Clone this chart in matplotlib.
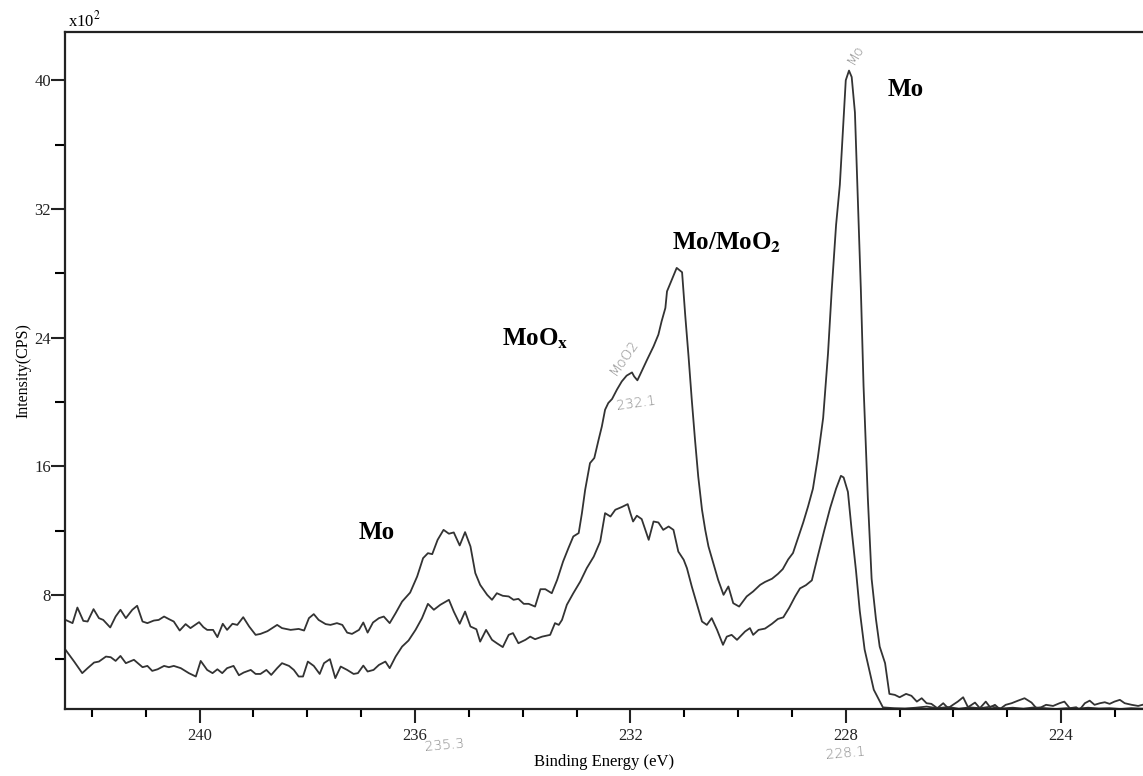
import matplotlib
matplotlib.use("Agg")
import matplotlib.pyplot as plt
from matplotlib.ticker import MultipleLocator
import matplotlib.transforms as mtransforms

plt.rcParams['font.family'] = ['Liberation Serif', 'DejaVu Serif']
plt.rcParams['mathtext.fontset'] = 'stix'

# spectre superieur (binding energy en eV, intensite en x10^2 CPS)
be_top = [242.49, 242.36, 242.27, 242.16, 242.08, 241.97, 241.87, 241.79, 241.66, 241.56,
          241.47, 241.37, 241.25, 241.16, 241.06, 240.97, 240.85, 240.76, 240.66, 240.57,
          240.48, 240.37, 240.26, 240.17, 240.01, 239.93, 239.86, 239.75, 239.67, 239.57,
          239.49, 239.39, 239.30, 239.19, 239.08, 238.96, 238.87, 238.74, 238.56, 238.47,
          238.31, 238.16, 238.06, 237.97, 237.88, 237.79, 237.66, 237.57, 237.45, 237.35,
          237.26, 237.17, 237.04, 236.96, 236.88, 236.78, 236.67, 236.58, 236.47, 236.36,
          236.24, 236.09, 235.96, 235.85, 235.76, 235.68, 235.58, 235.47, 235.37, 235.28,
          235.17, 235.07, 234.97, 234.88, 234.79, 234.66, 234.57, 234.48, 234.37, 234.26,
          234.17, 234.08, 233.98, 233.89, 233.77, 233.67, 233.58, 233.46, 233.36, 233.25,
          233.15, 233.06, 232.96, 232.90, 232.84, 232.75, 232.67, 232.59, 232.53, 232.47,
          232.41, 232.34, 232.25, 232.16, 232.07, 231.97, 231.93, 231.87, 231.82, 231.69,
          231.57, 231.48, 231.42, 231.35, 231.32, 231.23, 231.14, 231.04, 230.98, 230.92,
          230.86, 230.80, 230.74, 230.67, 230.61, 230.55, 230.46, 230.37, 230.27, 230.18,
          230.09, 229.98, 229.84, 229.72, 229.59, 229.50, 229.37, 229.26, 229.17, 229.07,
          228.98, 228.89, 228.79, 228.70, 228.61, 228.52, 228.42, 228.33, 228.26, 228.18,
          228.11, 228.05, 228.00, 227.94, 227.89, 227.83, 227.78, 227.72, 227.67, 227.59,
          227.52, 227.44, 227.37, 227.27, 227.19, 227.09, 227.00, 226.88, 226.78, 226.68,
          226.59, 226.50, 226.41, 226.30, 226.19, 226.10, 226.01, 225.92, 225.82, 225.73,
          225.60, 225.51, 225.40, 225.32, 225.23, 225.14, 225.03, 224.92, 224.80, 224.68,
          224.55, 224.46, 224.37, 224.28, 224.15, 224.03, 223.94, 223.84, 223.72, 223.66,
          223.56, 223.47, 223.38, 223.28, 223.19, 223.10, 223.01, 222.91, 222.82, 222.69,
          222.57, 222.49]
cps_top = [6.44, 6.24, 7.21, 6.38, 6.34, 7.11, 6.55, 6.44, 5.97, 6.65,
           7.07, 6.55, 7.07, 7.32, 6.34, 6.24, 6.40, 6.44, 6.65, 6.49,
           6.34, 5.78, 6.18, 5.93, 6.30, 5.99, 5.82, 5.82, 5.37, 6.20,
           5.82, 6.20, 6.13, 6.61, 6.03, 5.51, 5.57, 5.74, 6.13, 5.93,
           5.82, 5.88, 5.78, 6.55, 6.80, 6.44, 6.18, 6.13, 6.24, 6.13,
           5.65, 5.57, 5.82, 6.28, 5.65, 6.28, 6.55, 6.65, 6.24, 6.86,
           7.58, 8.14, 9.14, 10.28, 10.59, 10.53, 11.42, 12.04, 11.80, 11.88,
           11.07, 11.90, 11.01, 9.35, 8.62, 8.00, 7.69, 8.10, 7.94, 7.90,
           7.69, 7.75, 7.44, 7.44, 7.27, 8.35, 8.35, 8.10, 8.93, 10.07,
           10.91, 11.63, 11.84, 13.08, 14.53, 16.19, 16.51, 17.65, 18.47, 19.51,
           19.93, 20.18, 20.76, 21.27, 21.63, 21.83, 21.58, 21.34, 21.69, 22.62,
           23.45, 24.18, 25.01, 25.84, 26.87, 27.60, 28.33, 28.06, 25.32, 22.83,
           20.13, 17.65, 15.36, 13.29, 12.04, 11.01, 9.97, 8.93, 8.00, 8.52,
           7.48, 7.27, 7.90, 8.21, 8.62, 8.80, 9.00, 9.30, 9.60, 10.20,
           10.60, 11.50, 12.50, 13.50, 14.60, 16.50, 19.00, 23.00, 27.00, 31.00,
           33.50, 37.00, 40.00, 40.60, 40.20, 38.00, 33.00, 27.00, 21.00, 14.00,
           9.00, 6.50, 4.78, 3.75, 1.84, 1.78, 1.63, 1.84, 1.72, 1.36,
           1.57, 1.26, 1.22, 0.95, 1.26, 0.95, 1.16, 1.36, 1.63, 1.01,
           1.30, 0.95, 1.36, 1.01, 1.16, 0.89, 1.16, 1.26, 1.42, 1.57,
           1.30, 0.95, 1.01, 1.16, 1.09, 1.26, 1.36, 0.95, 1.01, 0.84,
           1.26, 1.42, 1.16, 1.26, 1.32, 1.22, 1.36, 1.47, 1.26, 1.16,
           1.09, 1.16]

# spectre inferieur
be_bot = [242.49, 242.33, 242.18, 242.08, 241.96, 241.87, 241.74, 241.65, 241.56, 241.47,
          241.37, 241.22, 241.06, 240.97, 240.88, 240.78, 240.66, 240.57, 240.48, 240.35,
          240.20, 240.07, 239.98, 239.86, 239.76, 239.67, 239.58, 239.49, 239.37, 239.27,
          239.18, 239.05, 238.96, 238.87, 238.76, 238.67, 238.56, 238.47, 238.34, 238.25,
          238.16, 238.08, 237.99, 237.88, 237.77, 237.69, 237.58, 237.48, 237.38, 237.26,
          237.14, 237.06, 236.96, 236.88, 236.77, 236.67, 236.55, 236.47, 236.36, 236.24,
          236.12, 235.99, 235.87, 235.76, 235.65, 235.53, 235.37, 235.28, 235.17, 235.07,
          234.97, 234.86, 234.79, 234.68, 234.57, 234.48, 234.37, 234.26, 234.18, 234.08,
          233.95, 233.86, 233.77, 233.64, 233.49, 233.40, 233.33, 233.27, 233.18, 233.06,
          232.93, 232.81, 232.68, 232.56, 232.47, 232.37, 232.28, 232.16, 232.05, 232.00,
          231.95, 231.88, 231.79, 231.66, 231.57, 231.48, 231.39, 231.29, 231.20, 231.11,
          231.01, 230.95, 230.86, 230.77, 230.67, 230.58, 230.49, 230.39, 230.28, 230.21,
          230.12, 230.02, 229.93, 229.87, 229.78, 229.72, 229.62, 229.50, 229.37, 229.26,
          229.16, 229.05, 228.94, 228.85, 228.74, 228.63, 228.52, 228.40, 228.29, 228.18,
          228.09, 228.04, 227.96, 227.89, 227.81, 227.74, 227.65, 227.48, 227.31, 227.10,
          226.90, 226.70, 226.50, 226.30, 226.10, 225.90, 225.70, 225.50, 225.30, 225.10,
          224.90, 224.70, 224.50, 224.30, 224.10, 223.90, 223.70, 223.50, 223.30, 223.10,
          222.90, 222.70, 222.49]
cps_bot = [4.58, 3.85, 3.13, 3.44, 3.79, 3.85, 4.16, 4.12, 3.89, 4.20,
           3.75, 3.96, 3.50, 3.58, 3.27, 3.37, 3.58, 3.50, 3.58, 3.44,
           3.13, 2.92, 3.89, 3.33, 3.13, 3.37, 3.13, 3.44, 3.58, 3.00,
           3.17, 3.33, 3.08, 3.08, 3.33, 3.02, 3.44, 3.75, 3.58, 3.33,
           2.92, 2.92, 3.85, 3.58, 3.08, 3.75, 4.00, 2.82, 3.54, 3.33,
           3.08, 3.13, 3.60, 3.23, 3.33, 3.64, 3.85, 3.44, 4.16, 4.78,
           5.16, 5.82, 6.55, 7.44, 7.07, 7.38, 7.69, 6.96, 6.20, 6.96,
           6.03, 5.86, 5.09, 5.82, 5.20, 4.99, 4.75, 5.51, 5.62, 4.99,
           5.20, 5.40, 5.24, 5.40, 5.51, 6.24, 6.13, 6.44, 7.38, 8.10,
           8.83, 9.66, 10.38, 11.32, 13.08, 12.87, 13.29, 13.46, 13.64, 13.08,
           12.56, 12.92, 12.71, 11.42, 12.56, 12.50, 12.04, 12.25, 12.04, 10.69,
           10.18, 9.66, 8.52, 7.48, 6.34, 6.13, 6.55, 5.82, 4.89, 5.40,
           5.51, 5.20, 5.51, 5.72, 5.93, 5.51, 5.82, 5.90, 6.20, 6.50,
           6.60, 7.20, 7.90, 8.40, 8.60, 8.90, 10.40, 12.00, 13.40, 14.60,
           15.40, 15.30, 14.40, 12.00, 9.50, 7.00, 4.60, 2.10, 1.00, 0.95,
           0.93, 0.98, 1.05, 0.95, 1.02, 0.92, 1.00, 0.95, 1.05, 0.93,
           0.98, 0.92, 1.00, 0.95, 0.90, 0.95, 0.92, 0.98, 0.93, 0.95,
           0.90, 0.95, 0.92]

# etiquettes des pics
peak_labels = ['Mo', r'MoO$_{\mathbf{x}}$', r'Mo/MoO$_{\mathbf{2}}$', 'Mo']
peak_be = [236.71, 233.77, 230.22, 226.88]
peak_cps = [11.9, 23.9, 29.9, 39.4]

fig = plt.figure(figsize=(11.43, 7.76), dpi=100)
ax = fig.add_axes([65 / 1143, 1 - 709 / 776, 1 - 65 / 1143, (709 - 32) / 776])

line_col = '#333333'
ax.plot(be_top, cps_top, color=line_col, lw=1.3)
ax.plot(be_bot, cps_bot, color=line_col, lw=1.3)

ax.set_xlim(242.5, 222.48)
ax.set_ylim(0.9, 43)

ax.xaxis.set_major_locator(MultipleLocator(4))
ax.xaxis.set_minor_locator(MultipleLocator(1))
ax.yaxis.set_major_locator(MultipleLocator(8))
ax.yaxis.set_minor_locator(MultipleLocator(4))
ax.tick_params(axis='both', which='major', direction='out', length=10, width=1.5,
               labelsize=12, colors='#222222')
ax.tick_params(axis='x', which='minor', direction='out', length=6, width=1.5)
ax.tick_params(axis='y', which='minor', direction='out', length=7, width=1.5)
ax.tick_params(axis='y', which='major', pad=0)
ax.tick_params(axis='x', which='major', pad=4)

for side in ['left', 'bottom', 'top']:
    ax.spines[side].set_linewidth(1.6)
    ax.spines[side].set_color('#222222')
ax.spines['right'].set_visible(False)

ax.set_xlabel('Binding Energy (eV)', fontsize=12, labelpad=7)
ax.set_ylabel('Intensity(CPS)', fontsize=11.5, labelpad=2)

ax.text(0.003, 1.003, r'x10$^2$', transform=ax.transAxes, fontsize=12,
        ha='left', va='bottom')

for lab, xb, yc in zip(peak_labels, peak_be, peak_cps):
    ax.text(xb, yc, lab, fontsize=18, fontweight='bold', ha='center', va='center')

# annotations manuscrites
hand = dict(color='#8a8a8a', fontsize=10, family='DejaVu Sans', fontweight='light')
ax.text(227.83, 41.6, 'Mo', rotation=60, ha='center', va='center', **hand)
ax.text(232.11, 22.8, 'MoO2', rotation=55, ha='center', va='center', **hand)
ax.text(231.89, 19.9, '232.1', rotation=8, ha='center', va='center', **hand)
trans = mtransforms.blended_transform_factory(ax.transData, ax.transAxes)
ax.text(235.45, -0.053, '235.3', transform=trans, rotation=5, ha='center', va='center', **hand)
ax.text(228.0, -0.066, '228.1', transform=trans, rotation=5, ha='center', va='center', **hand)

fig.savefig('out.png', dpi=100)
